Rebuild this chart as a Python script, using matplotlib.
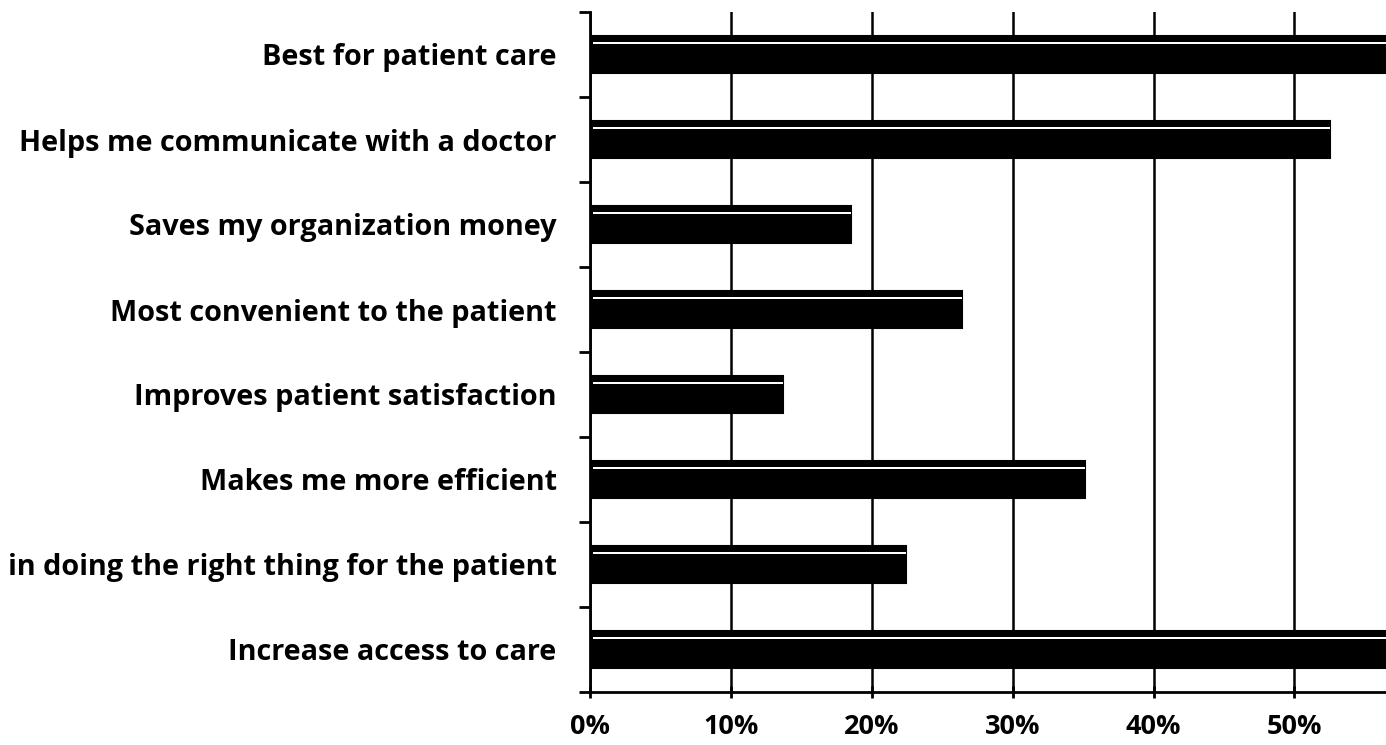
import matplotlib.pyplot as plt
from matplotlib.ticker import PercentFormatter

plt.rcParams['font.family'] = ['Open Sans', 'DejaVu Sans']

# bottom-to-top order, shares of respondents
categories = [
    "Increase access to care",
    "in doing the right thing for the patient",
    "Makes me more efficient",
    "Improves patient satisfaction",
    "Most convenient to the patient",
    "Saves my organization money",
    "Helps me communicate with a doctor",
    "Best for patient care",
]
shares = [0.565, 0.224, 0.351, 0.137, 0.264, 0.185, 0.525, 0.565]
x_ticks = [0.0, 0.1, 0.2, 0.3, 0.4, 0.5]

fig = plt.figure(figsize=(13.86, 7.45), dpi=100)
ax = fig.add_axes([590 / 1386, 53 / 745, 796 / 1386, 680 / 745])

y = range(len(categories))
ax.barh(y, shares, height=0.44, color="black", edgecolor="black",
        linewidth=1.5, zorder=3)
# thin highlight strip along the top of each bar
ax.barh([i + 0.14 for i in y], [s - 0.002 for s in shares], height=0.025,
        left=0.002, color="white", linewidth=0, zorder=4)

ax.set_xlim(0, 0.565)
ax.set_ylim(-0.5, len(categories) - 0.5)

ax.set_xticks(x_ticks)
ax.xaxis.set_major_formatter(PercentFormatter(1.0, decimals=0))
ax.grid(axis="x", color="black", linewidth=1.8, zorder=0)

ax.set_yticks(list(y))
ax.set_yticklabels(categories)
ax.set_yticks([i - 0.5 for i in range(len(categories) + 1)], minor=True)
ax.tick_params(axis="y", which="major", length=0, pad=24)
ax.tick_params(axis="y", which="minor", length=8, width=2, direction="out")
ax.tick_params(axis="x", length=8, width=2, direction="inout", pad=12)

for lab in ax.get_yticklabels():
    lab.set_fontsize(20.8)
    lab.set_fontweight("bold")
for lab in ax.get_xticklabels():
    lab.set_fontsize(19.5)
    lab.set_fontweight("bold")

ax.spines["top"].set_visible(False)
ax.spines["right"].set_visible(False)
ax.spines["left"].set_linewidth(2)
ax.spines["bottom"].set_linewidth(2)

fig.savefig("out.png", dpi=100)
